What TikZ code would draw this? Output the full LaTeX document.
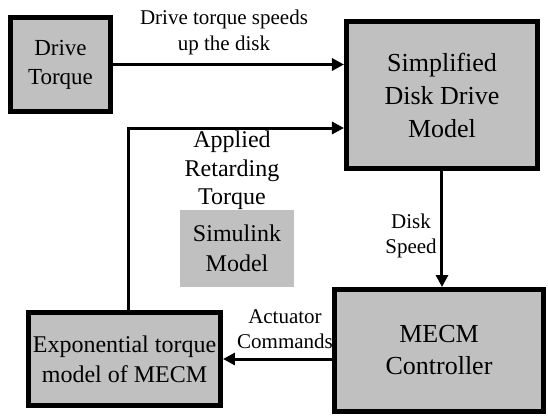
\documentclass[tikz,border=0pt]{standalone}
\usepackage{fontspec}
\setmainfont{Liberation Serif}
\usetikzlibrary{arrows.meta}
\definecolor{boxgray}{RGB}{192,192,192}

\begin{document}
\begin{tikzpicture}[x=0.5pt,y=-0.5pt,
  bloc/.style={draw,line width=2.5pt,fill=boxgray,align=center,inner sep=0pt},
  lbl/.style={align=center,inner sep=0pt,font=\fontsize{10.5}{12.5}\selectfont},
  arr/.style={line width=1.5pt,-{Triangle[length=6pt,width=6pt]}}]
\useasboundingbox (0,0) rectangle (548,418);
\node [bloc,minimum width=50pt,minimum height=47pt,font=\fontsize{11.5}{14.5}\selectfont] (dt) at (60.5,64.5) {Drive\\Torque};
\node [bloc,minimum width=95.5pt,minimum height=73.5pt,font=\fontsize{13}{16.5}\selectfont] (sd) at (442,95) {Simplified\\Disk Drive\\Model};
\node [bloc,minimum width=104.5pt,minimum height=61pt,font=\fontsize{13}{16}\selectfont] (mc) at (439,350.5) {MECM\\Controller};
\node [bloc,minimum width=96pt,minimum height=46.5pt,font=\fontsize{12}{15}\selectfont] (ex) at (124.5,359) {Exponential torque\\model of MECM};
\node [fill=boxgray,align=center,inner sep=0pt,minimum width=57pt,minimum height=38.5pt,font=\fontsize{12}{15}\selectfont] (sim) at (237,248.5) {Simulink\\Model};
% connectors
\draw [arr] (dt.east) -- (dt.east -| sd.west);
\draw [arr] ([xshift=2pt]ex.north) |- ([yshift=-16.5pt]sd.west);
\draw [arr] (sd.south) -- (sd.south |- mc.north);
\draw [arr] (mc.west |- ex.east) -- (ex.east);
% labels
\node [lbl,font=\fontsize{10.5}{13}\selectfont] (lspeed) at (224,32) {Drive torque speeds\\up the disk};
\node [lbl,font=\fontsize{12}{14.3}\selectfont] (lret) at (232,170.5) {Applied\\Retarding\\Torque};
\node [lbl] (ldisk) at (411,235.5) {Disk\\Speed};
\node [lbl] (lact) at (285,329.5) {Actuator\\Commands};
\end{tikzpicture}
\end{document}
